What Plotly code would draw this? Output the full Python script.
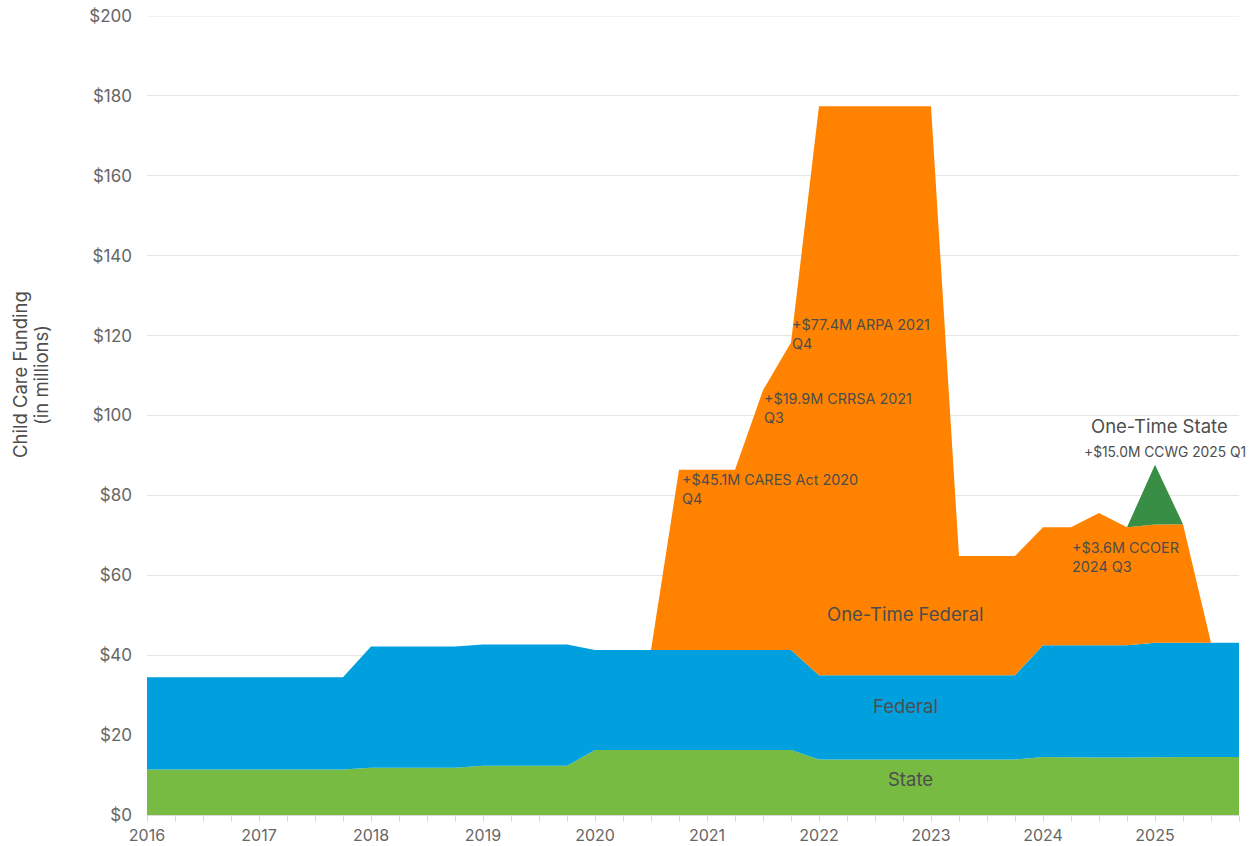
import plotly.graph_objects as go

quarters = [2016.0, 2016.25, 2016.5, 2016.75, 2017.0, 2017.25, 2017.5, 2017.75,
            2018.0, 2018.25, 2018.5, 2018.75, 2019.0, 2019.25, 2019.5, 2019.75,
            2020.0, 2020.25, 2020.5, 2020.75, 2021.0, 2021.25, 2021.5, 2021.75,
            2022.0, 2022.25, 2022.5, 2022.75, 2023.0, 2023.25, 2023.5, 2023.75,
            2024.0, 2024.25, 2024.5, 2024.75, 2025.0, 2025.25, 2025.5, 2025.75]

state = [11.4, 11.4, 11.4, 11.4, 11.4, 11.4, 11.4, 11.4,
         11.8, 11.8, 11.8, 11.8, 12.3, 12.3, 12.3, 12.3,
         16.3, 16.3, 16.3, 16.3, 16.3, 16.3, 16.3, 16.3,
         13.9, 13.9, 13.9, 14.0, 14.0, 13.9, 13.9, 13.9,
         14.5, 14.4, 14.4, 14.4, 14.5, 14.5, 14.5, 14.5]

federal = [23.1, 23.1, 23.1, 23.1, 23.1, 23.1, 23.1, 23.1,
           30.4, 30.4, 30.4, 30.4, 30.4, 30.4, 30.4, 30.4,
           25.0, 25.0, 25.0, 25.0, 25.0, 25.0, 25.0, 25.0,
           21.1, 21.1, 21.1, 21.0, 21.0, 21.1, 21.1, 21.1,
           28.0, 28.1, 28.1, 28.1, 28.6, 28.6, 28.6, 28.6]

one_time_federal = [0, 0, 0, 0, 0, 0, 0, 0,
                    0, 0, 0, 0, 0, 0, 0, 0,
                    0, 0, 0, 45.1, 45.1, 45.1, 65.0, 77.0,
                    142.4, 142.4, 142.4, 142.4, 142.4, 29.8, 29.8, 29.8,
                    29.5, 29.5, 33.1, 29.5, 29.6, 29.7, 0, 0]

one_time_state = [0, 0, 0, 0, 0, 0, 0, 0,
                  0, 0, 0, 0, 0, 0, 0, 0,
                  0, 0, 0, 0, 0, 0, 0, 0,
                  0, 0, 0, 0, 0, 0, 0, 0,
                  0, 0, 0, 0, 15.0, 0, 0, 0]

year_ticks = [2016, 2017, 2018, 2019, 2020, 2021, 2022, 2023, 2024, 2025]
y_ticks = [0, 20, 40, 60, 80, 100, 120, 140, 160, 180, 200]

FONT = "Inter"
TXT = "#4d4d4d"
GRID = "#e6e6e6"

fig = go.Figure()
series = [
    ("State", state, "#78bb43"),
    ("Federal", federal, "#00a0de"),
    ("One-Time Federal", one_time_federal, "#ff8300"),
    ("One-Time State", one_time_state, "#388e44"),
]
for name, vals, col in series:
    fig.add_trace(go.Scatter(
        x=quarters, y=vals, name=name, mode="lines",
        stackgroup="one", line=dict(width=0, color=col),
        fillcolor=col, hoverinfo="x+y+name",
    ))

notes = [
    (2020.759, 86.5, "+$45.1M CARES Act 2020<br>Q4"),
    (2021.491, 106.9, "+$19.9M CRRSA 2021<br>Q3"),
    (2021.741, 125.3, "+$77.4M ARPA 2021<br>Q4"),
    (2024.241, 69.5, "+$3.6M CCOER<br>2024 Q3"),
]
for x, y, t in notes:
    fig.add_annotation(x=x, y=y, text=t, showarrow=False, xanchor="left",
                       yanchor="top", align="left",
                       font=dict(family=FONT, size=14.4, color=TXT))

fig.add_annotation(x=2024.348, y=90.9, text="+$15.0M CCWG 2025 Q1", showarrow=False,
                   xanchor="left", yanchor="middle",
                   font=dict(family=FONT, size=13.8, color=TXT))
fig.add_annotation(x=2025.036, y=97.4, text="One-Time State", showarrow=False,
                   xanchor="center", yanchor="middle",
                   font=dict(family=FONT, size=18.5, color=TXT))
fig.add_annotation(x=2022.77, y=50.3, text="One-Time Federal", showarrow=False,
                   font=dict(family=FONT, size=18.5, color=TXT))
fig.add_annotation(x=2022.77, y=27.3, text="Federal", showarrow=False,
                   font=dict(family=FONT, size=18.5, color=TXT))
fig.add_annotation(x=2022.82, y=9.0, text="State", showarrow=False,
                   font=dict(family=FONT, size=18.5, color=TXT))

fig.add_annotation(xref="paper", yref="paper", x=-0.1163, y=0.5507,
                   text="Child Care Funding", textangle=-90,
                   showarrow=False, xanchor="center", yanchor="middle",
                   font=dict(family=FONT, size=18.5, color=TXT))
fig.add_annotation(xref="paper", yref="paper", x=-0.0971, y=0.5507,
                   text="(in millions)", textangle=-90,
                   showarrow=False, xanchor="center", yanchor="middle",
                   font=dict(family=FONT, size=18.5, color=TXT))

# top gridline (plotly drops the grid line that sits exactly on the range edge)
fig.add_shape(type="line", xref="paper", x0=0, x1=1, yref="y", y0=200, y1=200,
              line=dict(color=GRID, width=1), layer="below")

fig.update_layout(
    template="none",
    width=1255, height=846,
    margin=dict(l=147, r=16, t=16, b=31, autoexpand=False),
    paper_bgcolor="white", plot_bgcolor="white",
    showlegend=False,
    font=dict(family=FONT, color="#666666"),
    xaxis=dict(
        range=[2016, 2025.75], tickmode="array", tickvals=year_ticks,
        ticktext=[str(v) for v in year_ticks],
        showgrid=False, zeroline=False, automargin=False,
        showline=True, linecolor="#d9d9d9", linewidth=1,
        ticks="outside", ticklen=6, tickcolor="#d9d9d9",
        minor=dict(dtick=0.25, ticks="outside", ticklen=6, tickcolor="#d9d9d9", showgrid=False),
        tickfont=dict(family=FONT, size=16, color="#666666"),
    ),
    yaxis=dict(
        range=[0, 200], tickmode="array", tickvals=y_ticks,
        ticktext=["$" + str(v) for v in y_ticks],
        showgrid=True, gridcolor=GRID, gridwidth=1,
        zeroline=False, showline=False, automargin=False, ticks="",
        ticklabelstandoff=14, ticklabeloverflow="allow",
        tickfont=dict(family=FONT, size=17, color="#666666"),
    ),
)

fig.write_html(
    "out.html",
    config={"displayModeBar": False},
    post_script="document.body.style.margin='0';document.body.style.overflow='hidden';",
)
